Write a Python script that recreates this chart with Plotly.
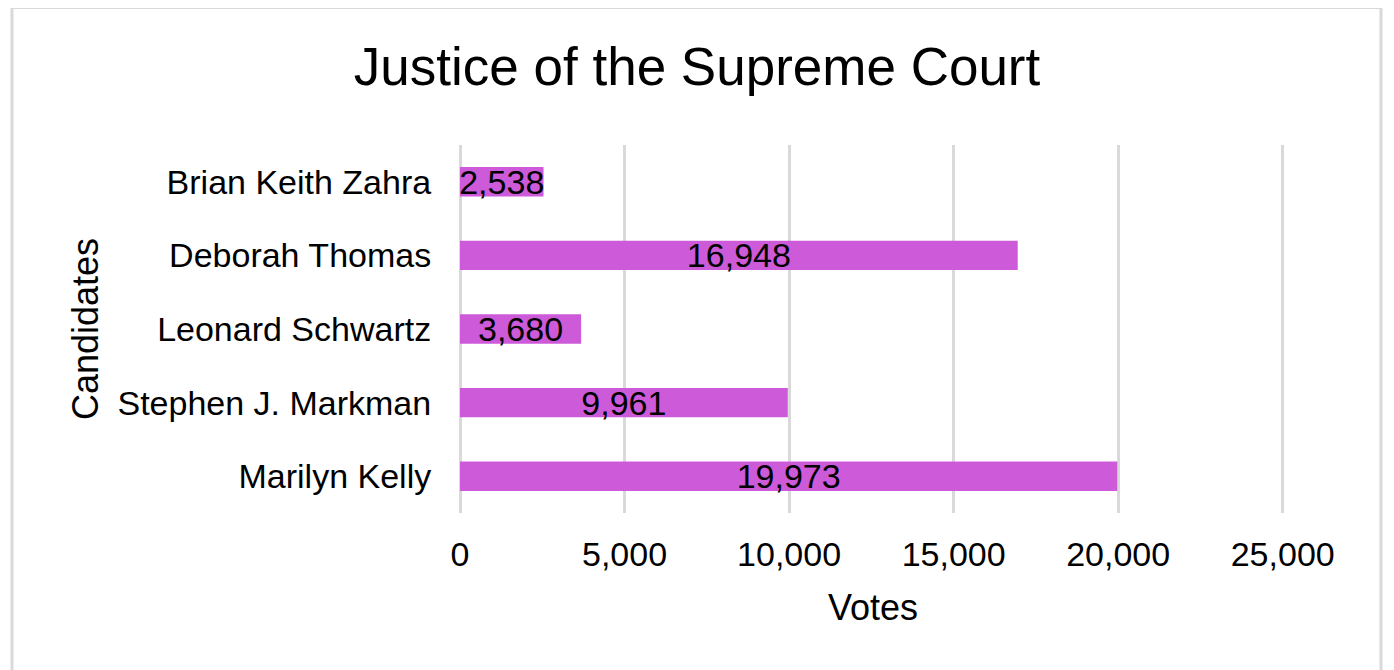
import plotly.graph_objects as go

candidates = ["Marilyn Kelly", "Stephen J. Markman", "Leonard Schwartz", "Deborah Thomas", "Brian Keith Zahra"]
votes = [19973, 9961, 3680, 16948, 2538]
x_ticks = [0, 5000, 10000, 15000, 20000, 25000]

FONT = "Liberation Sans, Arial, sans-serif"
BAR = "#CD5AD8"
GRID = "#D9D9D9"

fig = go.Figure()
fig.add_trace(go.Bar(
    x=votes, y=candidates, orientation="h",
    marker=dict(color=BAR, line=dict(width=0)),
    texttemplate="%{x:,}", textposition="inside", insidetextanchor="middle",
    textangle=0, constraintext="none",
    insidetextfont=dict(family=FONT, size=34, color="#000000"),
    hoverinfo="skip",
))

fig.update_layout(
    width=1394, height=670,
    margin=dict(l=452, r=116, t=137, b=165),
    paper_bgcolor="white", plot_bgcolor="white",
    bargap=0.6, showlegend=False,
    font=dict(family=FONT, color="#000000"),
    title=dict(text="Justice of the Supreme Court", x=0.4943, xanchor="center",
               y=0.9134, yref="container", yanchor="middle",
               font=dict(family=FONT, size=53, color="#000000")),
    xaxis=dict(range=[0, 25100], tickvals=x_ticks, tickformat=",",
               showgrid=True, gridcolor=GRID, gridwidth=3,
               zeroline=True, zerolinecolor=GRID, zerolinewidth=3, showline=False,
               ticks="outside", ticklen=11, tickcolor="rgba(0,0,0,0)",
               tickfont=dict(family=FONT, size=34, color="#000000"),
               title=dict(text="Votes", font=dict(family=FONT, size=36, color="#000000"), standoff=23)),
    yaxis=dict(categoryorder="array", categoryarray=candidates,
               showgrid=False, zeroline=False, showline=False,
               ticks="outside", ticklen=21, tickcolor="rgba(0,0,0,0)",
               tickfont=dict(family=FONT, size=34, color="#000000"),
               title=dict(text="Candidates", font=dict(family=FONT, size=36, color="#000000"), standoff=7)),
    shapes=[dict(type="rect", xref="paper", yref="paper",
                 x0=-0.5424, x1=1.115, y0=-0.47, y1=1.3735,
                 line=dict(color=GRID, width=3), fillcolor="rgba(0,0,0,0)", layer="below")],
)

fig.write_html("out.html")
